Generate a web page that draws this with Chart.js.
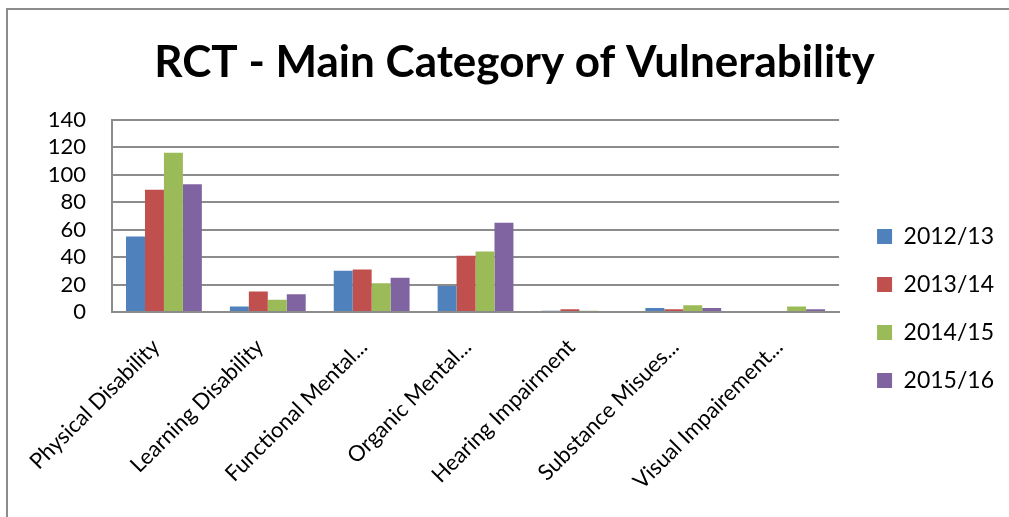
<!DOCTYPE html>
<html>
<head>
<meta charset="utf-8">
<script src="https://cdn.jsdelivr.net/npm/chart.js@4/dist/chart.umd.min.js"></script>
<style>
  html, body { margin: 0; padding: 0; background: #fff; }
  #wrap { position: relative; width: 1009px; height: 517px; }
  #frame { position: absolute; left: 6px; top: 8px; right: 0; bottom: 0;
           border-left: 2px solid #8c8c8c; border-top: 2px solid #8c8c8c; }
  canvas { position: absolute; left: 0; top: 0; }
</style>
</head>
<body>
<div id="wrap">
  <div id="frame"></div>
  <canvas id="chart" width="1009" height="517"></canvas>
</div>
<script>
// categories and series
const categories = [
  "Physical Disability",
  "Learning Disability",
  "Functional Mental...",
  "Organic Mental...",
  "Hearing Impairment",
  "Substance Misues...",
  "Visual Impairement..."
];
const seriesNames = ["2012/13", "2013/14", "2014/15", "2015/16"];
const values1213 = [55, 4, 30, 19, 1, 3, 0];
const values1314 = [89, 15, 31, 41, 2, 2, 0];
const values1415 = [116, 9, 21, 44, 1, 5, 4];
const values1516 = [93, 13, 25, 65, 0, 3, 2];
const colors = ["#4F81BD", "#C0504D", "#9BBB59", "#8064A2"];
const yTicks = [0, 20, 40, 60, 80, 100, 120, 140];

const FONT = "Lato, 'Open Sans', sans-serif";
const allValues = [values1213, values1314, values1415, values1516];

// the legend sits further right and lower than Chart.js puts it by default,
// and the title is a little right of centre
const nudge = {
  id: "nudge",
  afterLayout(chart) {
    const lg = chart.legend;
    if (lg) {
      lg.left += 13; lg.right += 13;
      lg.top += 38; lg.bottom += 38;
    }
    const tb = chart.titleBlock;
    if (tb) { tb.left += 4; tb.right += 4; }
  }
};

document.addEventListener("DOMContentLoaded", () => {
  const ctx = document.getElementById("chart").getContext("2d");
  new Chart(ctx, {
    type: "bar",
    data: {
      labels: categories,
      datasets: seriesNames.map((name, i) => ({
        label: name,
        data: allValues[i],
        backgroundColor: colors[i],
        borderWidth: 0,
        categoryPercentage: 0.73,
        barPercentage: 1.0
      }))
    },
    plugins: [nudge],
    options: {
      responsive: false,
      animation: false,
      layout: { padding: { left: 30, right: 18, top: 30, bottom: 6 } },
      plugins: {
        title: {
          display: true,
          text: "RCT - Main Category of Vulnerability",
          color: "#000",
          font: { family: FONT, size: 44, weight: "bold" },
          padding: { top: 6, bottom: 31 }
        },
        legend: {
          position: "right",
          labels: {
            color: "#000",
            font: { family: FONT, size: 23 },
            boxWidth: 15,
            boxHeight: 15,
            padding: 25
          }
        },
        tooltip: { enabled: false }
      },
      scales: {
        x: {
          grid: { display: false, drawTicks: false },
          border: { display: true, color: "#8c8c8c", width: 2 },
          ticks: {
            color: "#000",
            font: { family: FONT, size: 22 },
            maxRotation: 45,
            minRotation: 45,
            autoSkip: false,
            labelOffset: -8,
            padding: 22
          },
          afterFit: (s) => { s.height = 199; }
        },
        y: {
          min: 0,
          max: 140,
          afterBuildTicks: (s) => { s.ticks = yTicks.map(v => ({ value: v })); },
          grid: { color: "#8c8c8c", lineWidth: 2, drawTicks: false },
          border: { display: true, color: "#8c8c8c", width: 2 },
          ticks: {
            color: "#000",
            font: { family: FONT, size: 22 },
            autoSkip: false,
            padding: 26
          },
          afterFit: (s) => { s.width = 82; }
        }
      }
    }
  });
});
</script>
</body>
</html>
